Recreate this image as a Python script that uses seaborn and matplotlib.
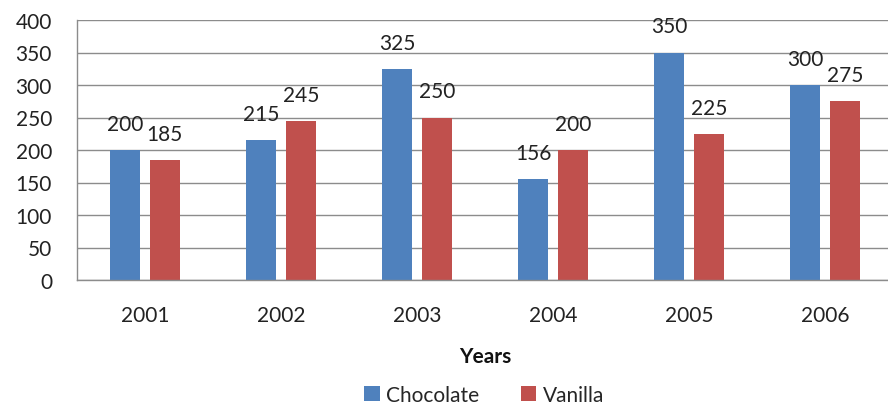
import pandas as pd
import matplotlib.pyplot as plt
import seaborn as sns

# chart values
years = ['2001', '2002', '2003', '2004', '2005', '2006']
chocolate = [200, 215, 325, 156, 350, 300]
vanilla = [185, 245, 250, 200, 225, 275]
flavours = ['Chocolate', 'Vanilla']
colors = ['#4F81BD', '#C0504D']

df = pd.DataFrame({
    'Years': years * 2,
    'Sales': chocolate + vanilla,
    'Flavour': [flavours[0]] * len(years) + [flavours[1]] * len(years),
})

sns.set_theme(style='white')
plt.rcParams['font.family'] = ['Lato', 'DejaVu Sans']
fs = 15

fig = plt.figure(figsize=(8.88, 4.10), dpi=100)
ax = fig.add_axes([77 / 888, 129 / 410, 816 / 888, 260 / 410])

sns.barplot(data=df, x='Years', y='Sales', hue='Flavour', palette=colors,
            width=0.58, gap=0.23, saturation=1, linewidth=0, ax=ax, legend=True)

# value labels above bars
for cont in ax.containers:
    for bar in cont:
        h = bar.get_height()
        ax.annotate(f'{int(h)}', (bar.get_x() + bar.get_width() / 2, h),
                    xytext=(0, 26), textcoords='offset pixels',
                    ha='center', va='center', fontsize=fs, color='#222222')

ax.set_ylim(0, 400)
ax.set_yticks(range(0, 401, 50))
ax.yaxis.grid(True, color='#8c8c8c', linewidth=1)
ax.set_axisbelow(True)
for s in ['top', 'right']:
    ax.spines[s].set_visible(False)
for s in ['left', 'bottom']:
    ax.spines[s].set_color('#8c8c8c')
    ax.spines[s].set_linewidth(1)

ax.tick_params(axis='y', length=0, pad=18, labelsize=fs, labelcolor='#222222')
ax.tick_params(axis='x', length=0, pad=18, labelsize=fs, labelcolor='#222222')
ax.set_ylabel('')
ax.set_xlabel('Years', fontsize=fs, fontweight='bold', labelpad=15, color='#111111')

ax.legend_.remove()
handles, labels = ax.get_legend_handles_labels()
fig.legend(handles, labels, loc='center', bbox_to_anchor=(484 / 888, 1 - 396 / 410),
           ncol=2, frameon=False, fontsize=fs, handlelength=0.75, handleheight=0.75,
           handletextpad=0.3, columnspacing=2.0)

plt.savefig('out.png', dpi=100, facecolor='white')
